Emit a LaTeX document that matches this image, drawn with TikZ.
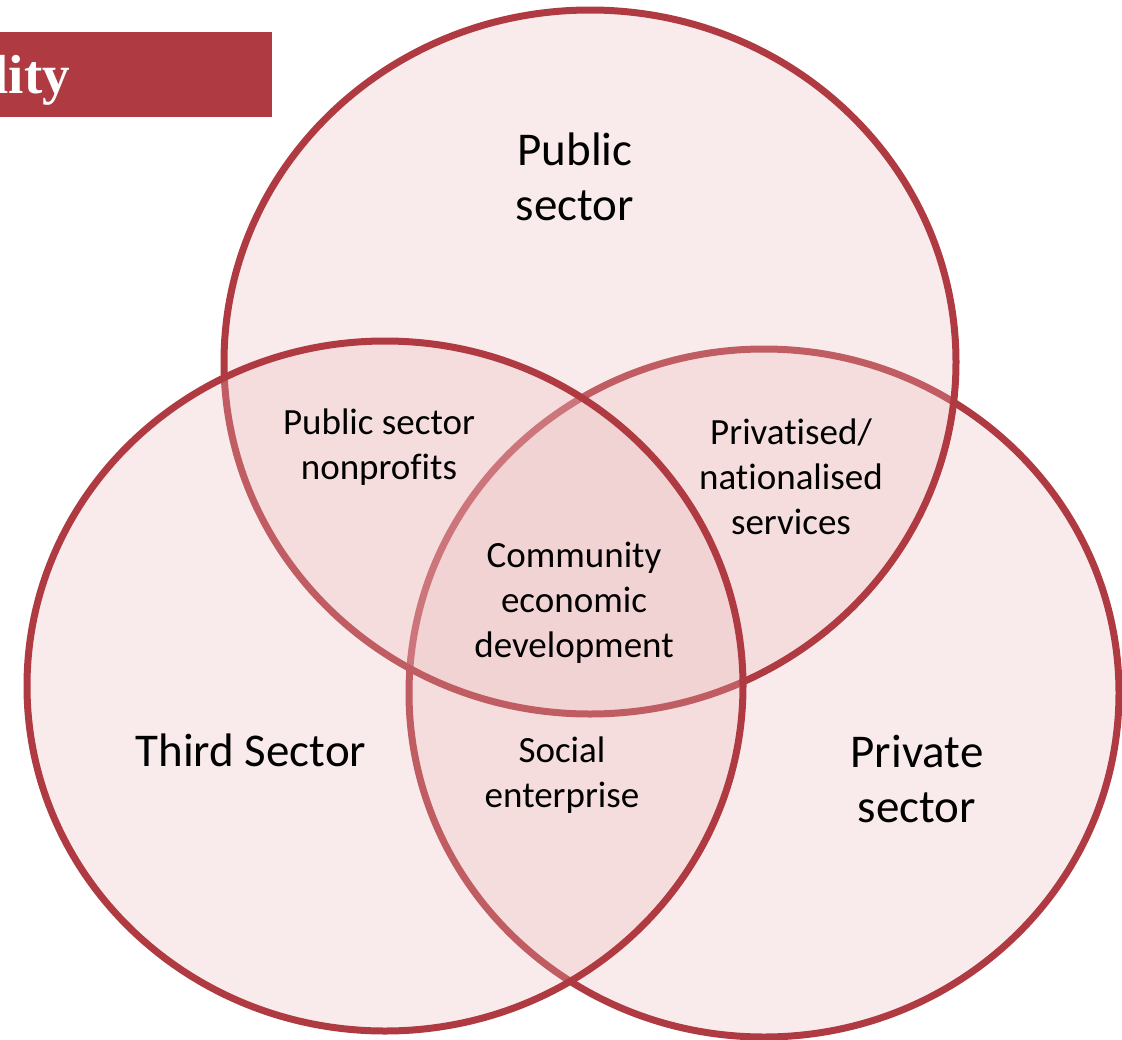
\documentclass[tikz,border=0pt]{standalone}
\usepackage{fontspec}
\setmainfont{Carlito}[Ligatures={NoCommon}]
\newfontfamily\bannerfont{Liberation Serif}
\definecolor{vred}{RGB}{176,58,66}
\definecolor{vfill}{RGB}{236,186,188}
\begin{document}
\begin{tikzpicture}[x=1pt,y=-1pt,
  venn/.style={draw=vred,line width=7pt,fill=vfill,fill opacity=0.28},
  big/.style={font=\fontsize{47}{55}\selectfont,align=center,text=black,inner sep=0pt},
  small/.style={font=\fontsize{37}{45}\selectfont,align=center,text=black,inner sep=0pt}]
\useasboundingbox (0,0) rectangle (1122,1039);
\fill[white] (0,0) rectangle (1122,1039);
\fill[vred] (0,32) rectangle (272,117);
\node[anchor=base east, text=white, font=\bannerfont\bfseries\fontsize{55}{60}\selectfont, inner sep=0pt] (banner) at (70,93) {lity};
% circles: private (drawn first), public, third (drawn last)
\draw[venn] (764,693) ellipse [x radius=355, y radius=344];
\draw[venn] (590,362) ellipse [x radius=366, y radius=352];
\draw[venn] (385,686) ellipse [x radius=358, y radius=345];
% labels
\node[big] (public) at (575,177) {Public\\sector};
\node[big] (third) at (251,750) {Third Sector};
\node[big] (private) at (917,779) {Private\\sector};
\node[small] (psnp) at (379,447) {Public sector\\nonprofits};
\node[small] (priv) at (791,477) {Privatised/\\nationalised\\services};
\node[small] (ced) at (574,603) {Community\\economic\\development};
\node[small] (soc) at (562,775) {Social\\enterprise};
\end{tikzpicture}
\end{document}
